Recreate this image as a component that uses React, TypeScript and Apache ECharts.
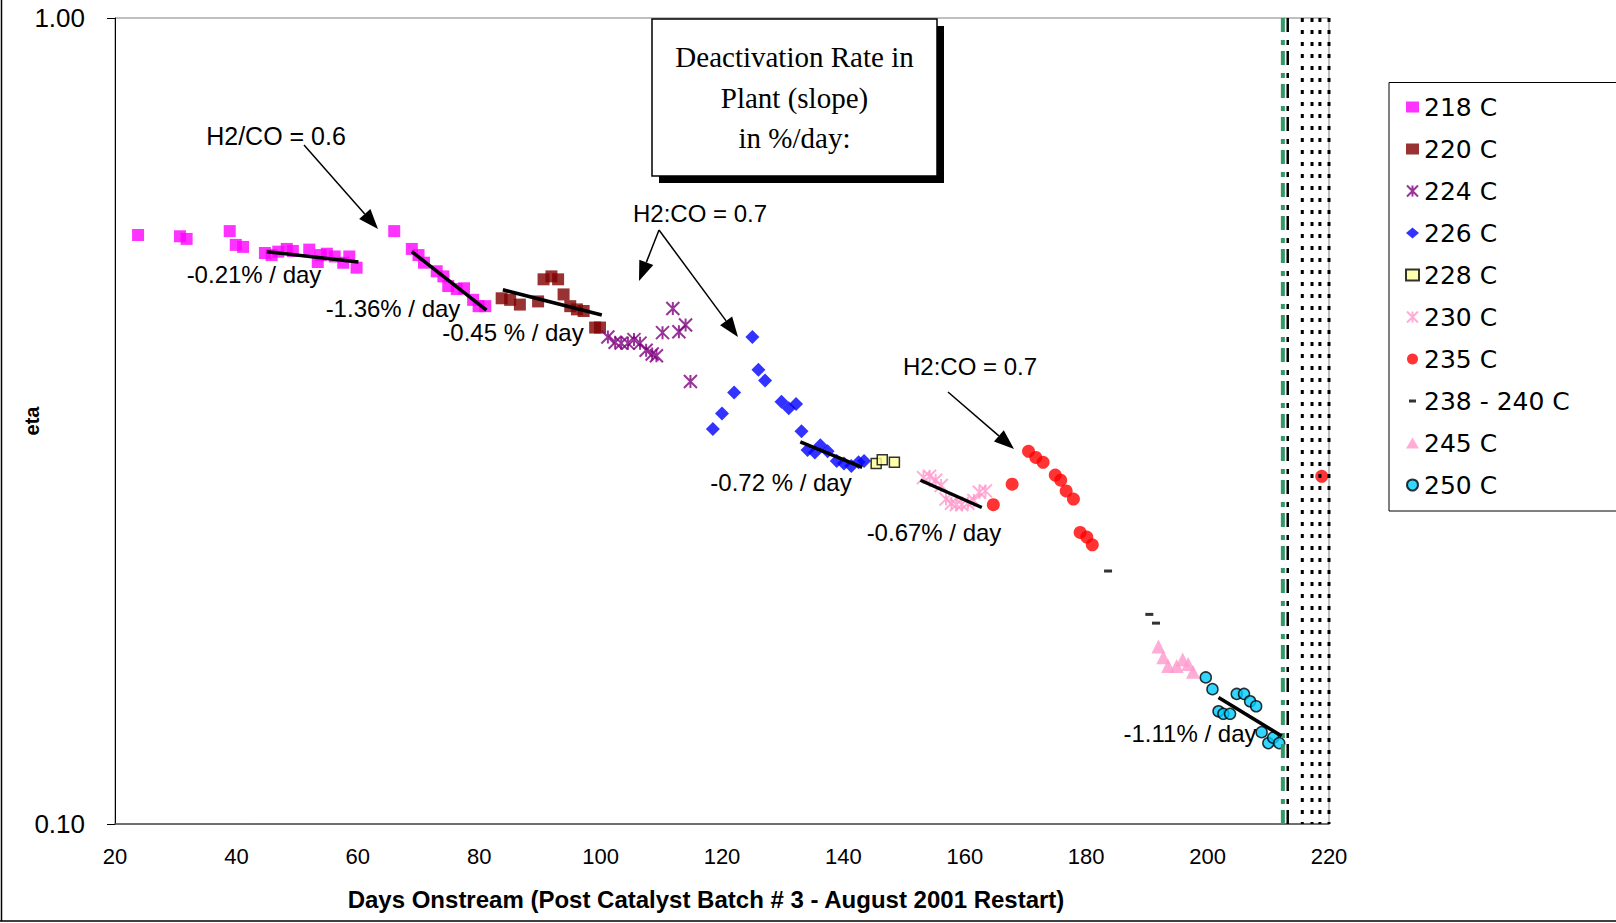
import React, { useEffect, useRef } from "react";
import * as echarts from "echarts";

// ---------- data (days onstream, eta) ----------
const xMin = 20;
const xMax = 220;
const xStep = 20;
const yMin = 0.1;
const yMax = 1.0;

const s218: [number, number][] = [
  [23.8, 0.538], [30.7, 0.536], [31.8, 0.532], [38.9, 0.544], [39.9, 0.523], [41.1, 0.52],
  [44.7, 0.511], [45.8, 0.508], [46.9, 0.513], [48.3, 0.517], [49.3, 0.514], [52.0, 0.516],
  [53.4, 0.498], [53.9, 0.508], [54.9, 0.51], [56.2, 0.506], [57.6, 0.497], [58.6, 0.506],
  [59.8, 0.49], [66.0, 0.544], [68.9, 0.517], [70.0, 0.508], [70.9, 0.497], [73.0, 0.485],
  [74.1, 0.478], [74.9, 0.465], [76.3, 0.461], [77.5, 0.462], [79.0, 0.447], [79.9, 0.439],
  [81.0, 0.439],
];
const s220: [number, number][] = [
  [83.7, 0.449], [85.1, 0.447], [86.7, 0.441], [89.7, 0.445], [90.6, 0.474], [91.9, 0.478],
  [93.0, 0.474], [93.9, 0.454], [95.0, 0.439], [96.1, 0.435], [97.2, 0.433], [99.1, 0.413],
  [99.9, 0.413],
];
const s224: [number, number][] = [
  [101.2, 0.402], [102.4, 0.396], [103.4, 0.395], [104.5, 0.395], [105.5, 0.399], [106.5, 0.395],
  [107.5, 0.387], [108.5, 0.383], [109.2, 0.381], [110.2, 0.407], [111.9, 0.436], [112.9, 0.408],
  [114.0, 0.416], [114.8, 0.354],
];
const s226: [number, number][] = [
  [118.5, 0.309], [120.0, 0.323], [122.0, 0.343], [125.0, 0.402], [126.0, 0.366], [127.1, 0.355],
  [129.8, 0.334], [131.0, 0.328], [132.2, 0.332], [133.1, 0.307], [134.1, 0.291], [135.3, 0.289],
  [136.2, 0.295], [137.4, 0.29], [138.9, 0.282], [140.1, 0.28], [141.3, 0.278], [142.5, 0.281],
  [143.4, 0.282],
];
const s228: [number, number][] = [[145.4, 0.28], [146.4, 0.283], [148.4, 0.281]];
const s230: [number, number][] = [
  [153.2, 0.269], [154.2, 0.27], [155.2, 0.267], [156.1, 0.263], [156.9, 0.253], [157.8, 0.25],
  [158.6, 0.249], [159.5, 0.249], [160.5, 0.25], [161.5, 0.252], [162.4, 0.258], [163.4, 0.259],
];
const s235: [number, number][] = [
  [164.7, 0.249], [167.8, 0.264], [170.5, 0.29], [171.7, 0.285], [172.9, 0.281], [174.9, 0.271],
  [175.8, 0.267], [176.7, 0.259], [177.9, 0.253], [179.0, 0.23], [180.1, 0.227], [181.0, 0.222],
  [218.8, 0.27],
];
const s238: [number, number][] = [[183.6, 0.206], [190.4, 0.182], [191.5, 0.1775]];
const s245: [number, number][] = [
  [191.9, 0.166], [192.7, 0.161], [193.5, 0.157], [194.9, 0.157], [195.9, 0.16], [196.8, 0.158],
  [197.6, 0.1545],
];
const s250: [number, number][] = [
  [199.7, 0.152], [200.8, 0.147], [201.8, 0.138], [202.6, 0.137], [203.7, 0.137], [204.8, 0.145],
  [206.0, 0.145], [207.0, 0.142], [208.0, 0.14], [208.9, 0.13], [210.0, 0.126], [210.8, 0.128],
  [211.8, 0.126],
];

// fitted trend lines
const trend1: [number, number][] = [[45.0, 0.513], [60.1, 0.498]];
const trend2: [number, number][] = [[68.9, 0.513], [81.2, 0.434]];
const trend3: [number, number][] = [[83.9, 0.46], [100.2, 0.428]];
const trend4: [number, number][] = [[132.9, 0.298], [143.1, 0.277]];
const trend5: [number, number][] = [[152.7, 0.267], [162.8, 0.247]];
const trend6: [number, number][] = [[201.8, 0.1435], [212.2, 0.1286]];

// vertical marker lines (days)
const greenLineDay = 212.4;
const blackDashDay = 213.2;
const dottedDays = [215.6, 217.2, 218.5, 220];

const FONT = '"Liberation Sans", Arial, sans-serif';
const LEGEND_FONT = '"DejaVu Sans", "Liberation Sans", Arial, sans-serif';
const SERIF = '"Liberation Serif", "Times New Roman", serif';
const ASTERISK = "path://M0,0L10,10M10,0L0,10M5,0L5,10";
const DASH_ICON = "path://M0,0L0,0M13,11L13,11M3,4h7v3h-7z";

function arrow(x1: number, y1: number, x2: number, y2: number, hl = 20, hw = 15) {
  const dx = x2 - x1;
  const dy = y2 - y1;
  const len = Math.sqrt(dx * dx + dy * dy);
  const ux = dx / len;
  const uy = dy / len;
  const bx = x2 - ux * hl;
  const by = y2 - uy * hl;
  const px = -uy * (hw / 2);
  const py = ux * (hw / 2);
  return [
    { type: "line", shape: { x1, y1, x2: bx, y2: by }, style: { stroke: "#000", lineWidth: 1.5 } },
    {
      type: "polygon",
      shape: { points: [[x2, y2], [bx + px, by + py], [bx - px, by - py]] },
      style: { fill: "#000" },
    },
  ];
}

function label(text: string, x: number, y: number, size = 24, family = FONT, weight = "normal") {
  return {
    type: "text",
    x,
    y,
    style: {
      text,
      fontSize: size,
      fontFamily: family,
      fontWeight: weight,
      fill: "#000",
      align: "center",
      verticalAlign: "middle",
    },
  };
}

function vline(day: number, color: string, width: number, dash: number[]) {
  return {
    type: "line",
    data: [[day, yMax], [day, yMin]],
    showSymbol: false,
    symbol: "none",
    clip: false,
    silent: true,
    z: 4,
    lineStyle: { color, width, type: dash, cap: "butt" },
  };
}

function trend(data: [number, number][]) {
  return {
    type: "line",
    data,
    symbol: "none",
    showSymbol: false,
    silent: true,
    z: 5,
    lineStyle: { color: "#000", width: 3.5 },
  };
}

export default function App() {
  const ref = useRef<HTMLDivElement>(null);

  useEffect(() => {
    const chart = echarts.init(ref.current!, undefined, { renderer: "svg" });

    const scatter = (name: string, data: [number, number][], symbol: string, size: any, itemStyle: any) => ({
      name,
      type: "scatter",
      data,
      symbol,
      symbolSize: size,
      itemStyle,
      z: 3,
    });

    const option: any = {
      animation: false,
      backgroundColor: "#fff",
      textStyle: { fontFamily: FONT },
      grid: {
        left: 115,
        top: 18,
        right: 287,
        bottom: 99,
        show: true,
        borderColor: "#808080",
        borderWidth: 1,
        backgroundColor: "transparent",
      },
      xAxis: {
        type: "value",
        min: xMin,
        max: xMax,
        interval: xStep,
        axisLine: { show: true, lineStyle: { color: "#555", width: 1.5 } },
        axisTick: { show: false },
        splitLine: { show: false },
        axisLabel: { fontSize: 22, color: "#000", margin: 21, fontFamily: FONT },
      },
      yAxis: {
        type: "log",
        logBase: 10,
        min: yMin,
        max: yMax,
        axisLine: { show: true, lineStyle: { color: "#000", width: 1 } },
        axisTick: { show: true, length: 8, lineStyle: { color: "#000" } },
        minorTick: { show: false },
        splitLine: { show: false },
        axisLabel: {
          fontSize: 26,
          color: "#000",
          margin: 30,
          fontFamily: FONT,
          formatter: (v: number) => v.toFixed(2),
        },
      },
      legend: {
        orient: "vertical",
        left: 1405,
        top: 94,
        padding: 0,
        itemWidth: 13,
        itemHeight: 11,
        itemGap: 16,
        selectedMode: false,
        textStyle: { fontSize: 25, lineHeight: 26, color: "#000", fontFamily: LEGEND_FONT },
        data: [
          "218 C",
          "220 C",
          "224 C",
          "226 C",
          "228 C",
          "230 C",
          "235 C",
          { name: "238 - 240 C", icon: DASH_ICON },
          "245 C",
          "250 C",
        ],
      },
      series: [
        scatter("218 C", s218, "rect", 12, { color: "#FF00FF" }),
        scatter("220 C", s220, "rect", 12, { color: "#800000" }),
        scatter("224 C", s224, ASTERISK, 13, { color: "rgba(0,0,0,0)", borderColor: "#800080", borderWidth: 2 }),
        scatter("226 C", s226, "diamond", 14, { color: "#0000FF" }),
        scatter("228 C", s228, "rect", 10, { color: "#FFFF99", borderColor: "#000", borderWidth: 1.5 }),
        scatter("230 C", s230, ASTERISK, 13, { color: "rgba(0,0,0,0)", borderColor: "#FF99CC", borderWidth: 2 }),
        scatter("235 C", s235, "circle", 13, { color: "#FF0000" }),
        scatter("238 - 240 C", s238, "rect", [8, 3], { color: "#000" }),
        scatter("245 C", s245, "triangle", 14, { color: "#FF99CC" }),
        scatter("250 C", s250, "circle", 11, { color: "#00CCFF", borderColor: "#000", borderWidth: 1.5 }),
        trend(trend1),
        trend(trend2),
        trend(trend3),
        trend(trend4),
        trend(trend5),
        trend(trend6),
        vline(blackDashDay, "#000", 2.5, [14, 8, 5, 6]),
        vline(greenLineDay, "#339966", 4, [14, 8, 5, 6]),
        ...dottedDays.map((d) => vline(d, "#000", 3, [4, 8])),
      ],
      graphic: [
        // outer chart frame (left and bottom edges visible)
        { type: "line", shape: { x1: 1.5, y1: 0, x2: 1.5, y2: 921 }, style: { stroke: "#000", lineWidth: 1.5 } },
        { type: "line", shape: { x1: 0, y1: 921, x2: 1616, y2: 921 }, style: { stroke: "#000", lineWidth: 1.5 } },
        // axis titles
        label("Days Onstream (Post Catalyst Batch # 3 - August 2001 Restart)", 706, 899, 24, FONT, "bold"),
        { ...label("eta", 32, 421, 20, FONT, "bold"), rotation: Math.PI / 2 },
        // legend frame
        {
          type: "rect",
          shape: { x: 1389, y: 82.5, width: 240, height: 428.5 },
          style: { fill: "none", stroke: "#000", lineWidth: 1 },
        },
        // callout box
        {
          type: "group",
          z: 100,
          children: [
            { type: "rect", shape: { x: 659, y: 26, width: 285, height: 157 }, style: { fill: "#000" } },
            {
              type: "rect",
              shape: { x: 652, y: 19, width: 285, height: 157 },
              style: { fill: "#fff", stroke: "#000", lineWidth: 1.5 },
            },
            label("Deactivation Rate in", 794.5, 57, 29, SERIF),
            label("Plant (slope)", 794.5, 98, 29, SERIF),
            label("in %/day:", 794.5, 138, 29, SERIF),
          ],
        },
        // annotations
        label("H2/CO = 0.6", 276, 136, 25),
        ...arrow(304, 145, 378, 229),
        label("H2:CO = 0.7", 700, 213),
        ...arrow(659, 230, 639, 281),
        ...arrow(659, 230, 738, 337),
        label("H2:CO = 0.7", 970, 366),
        ...arrow(948, 392, 1014, 449),
        label("-0.21% / day", 254, 274),
        label("-1.36% / day", 393, 308),
        label("-0.45 % / day", 513, 332),
        label("-0.72 % / day", 781, 482),
        label("-0.67% / day", 934, 532),
        label("-1.11% / day", 1190, 733),
      ],
    };

    chart.setOption(option);
    return () => chart.dispose();
  }, []);

  return (
    <div
      ref={ref}
      style={{ position: "fixed", left: 0, top: 0, width: 1616, height: 923, background: "#fff" }}
    />
  );
}
